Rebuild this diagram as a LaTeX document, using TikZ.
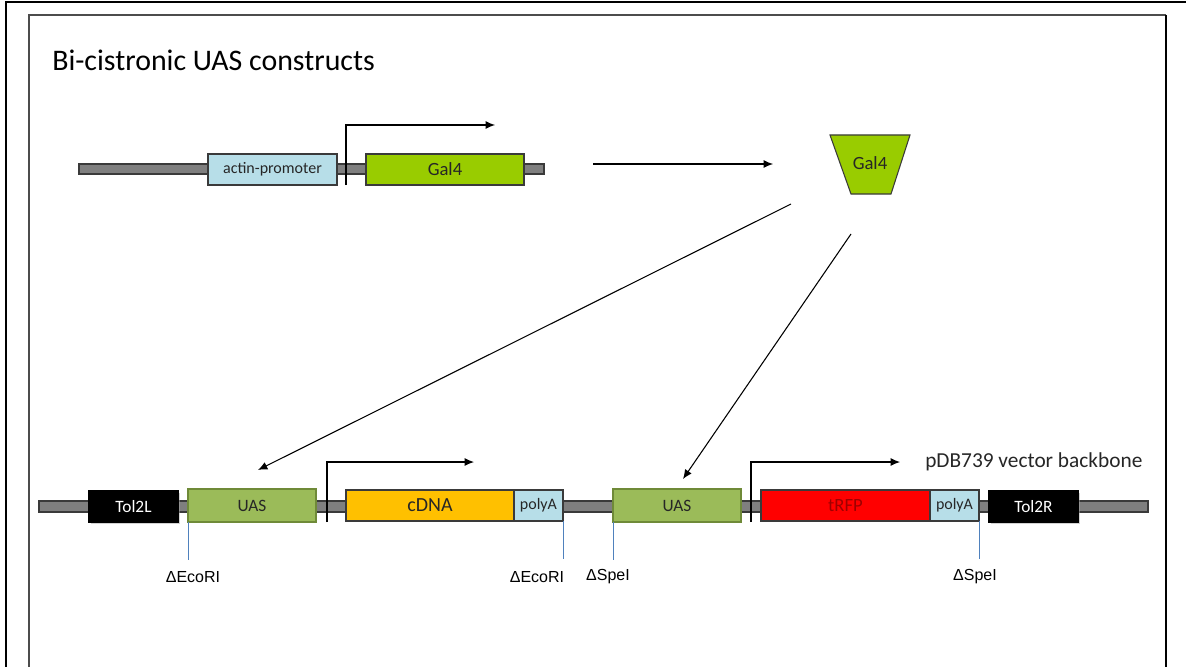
\documentclass[tikz,border=0pt]{standalone}
\usepackage{fontspec}
\setmainfont{Carlito}
\newfontfamily\arialfont{Liberation Sans}
\usetikzlibrary{arrows.meta,shadows}

\definecolor{bbone}{HTML}{7F7F7F}
\definecolor{edge}{HTML}{3A3A3A}
\definecolor{paleblue}{HTML}{B7DEE8}
\definecolor{limegreen}{HTML}{99CC00}
\definecolor{uasfill}{HTML}{9BBB59}
\definecolor{uasedge}{HTML}{6F8A38}
\definecolor{cdnafill}{HTML}{FFC000}
\definecolor{rfpfill}{HTML}{FF0000}
\definecolor{rfptext}{HTML}{9E0000}
\definecolor{siteblue}{HTML}{4F81BD}

% a gene element: name, x1, y1, x2, y2, style, text
\newcommand\element[7]{%
  \node[#6, minimum width={(#4-#2)*0.75pt}, minimum height={(#5-#3)*0.75pt}]
    (#1) at ({(#2+#4)/2},{(#3+#5)/2}) {#7};}

\begin{document}
\begin{tikzpicture}[x=0.75pt,y=-0.75pt,
  block/.style={draw=edge, line width=0.8pt, inner sep=0pt, outer sep=0pt, text=black!85},
  backbone/.style={block, fill=bbone},
  promoterbox/.style={block, fill=paleblue, font=\fontsize{12}{14}\selectfont},
  gal4box/.style={block, fill=limegreen, font=\fontsize{14}{16}\selectfont},
  uasbox/.style={block, draw=uasedge, line width=2.2pt, fill=uasfill, font=\fontsize{13}{15}\selectfont},
  cdnabox/.style={block, fill=cdnafill, font=\fontsize{15}{18}\selectfont},
  rfpbox/.style={block, fill=rfpfill, text=rfptext, font=\fontsize{14}{17}\selectfont},
  polyabox/.style={block, fill=paleblue, font=\fontsize{12}{14}\selectfont},
  tolbox/.style={block, draw=black, fill=black, text=white, font=\fontsize{13}{15}\selectfont,
    drop shadow={shadow xshift=1.2pt, shadow yshift=-1.2pt, fill=black!35}},
  tss/.style={draw=black, line width=0.8pt, -{Latex[length=7pt,width=6pt]}},
  arr/.style={draw=black, line width=0.8pt, -{Latex[length=7pt,width=6pt]}},
  site/.style={draw=siteblue, line width=0.6pt},
  sitelabel/.style={font=\arialfont\fontsize{12}{14}\selectfont, inner sep=0pt}]

\useasboundingbox (0,0) rectangle (1186,667);

% page frames
\draw[black, line width=2pt] (6,700) -- (6,2) -- (1190,2);
\draw[black!70, line width=1.5pt] (29,700) -- (29,15) -- (1166,15);
\draw[black, line width=2.2pt] (1166,15) -- (1166,700);

% title
\node[anchor=west, inner sep=0pt, font=\fontsize{22.4}{26}\selectfont] (title) at (52,60) {Bi-cistronic UAS constructs};

% driver construct
\element{drvbb}{79}{164}{544}{174}{backbone}{}
\element{actin}{208}{154}{337}{185}{promoterbox}{actin-promoter}
\element{gal4g}{366}{154}{524}{185}{gal4box}{Gal4}
\coordinate (tss1a) at (346,185);
\coordinate (tss1b) at (495,125);
\draw[tss] (tss1a) |- (tss1b);

% translation to Gal4 protein
\coordinate (trA) at (593,164);
\coordinate (trB) at (773,164);
\draw[arr] (trA) -- (trB);

\draw[draw=edge, line width=0.8pt, fill=limegreen] (830,135) -- (910,135) -- (891,194) -- (851,194) -- cycle;
\node[font=\fontsize{14}{16}\selectfont, text=black!85] (gal4p) at (870,163) {Gal4};

% Gal4 binding to both UAS copies
\coordinate (b1s) at (791,204);
\coordinate (b1e) at (258,470);
\coordinate (b2s) at (851,234);
\coordinate (b2e) at (683,479);
\draw[arr] (b1s) -- (b1e);
\draw[arr] (b2s) -- (b2e);

% bi-cistronic responder construct
\element{respbb}{39}{501}{1148}{512}{backbone}{}
\element{tolL}{89}{491}{178}{522}{tolbox}{Tol2L}
\element{uas1}{188}{489}{316}{522}{uasbox}{UAS}
\element{cdna}{346}{490}{514}{521}{cdnabox}{cDNA}
\element{pa1}{514}{490}{563}{521}{polyabox}{polyA}
\element{uas2}{613}{489}{741}{522}{uasbox}{UAS}
\element{trfp}{761}{490}{930}{521}{rfpbox}{tRFP}
\element{pa2}{930}{490}{979}{521}{polyabox}{polyA}
\element{tolR}{989}{491}{1078}{522}{tolbox}{Tol2R}

\coordinate (tss2a) at (327,522);
\coordinate (tss2b) at (474,462);
\draw[tss] (tss2a) |- (tss2b);
\coordinate (tss3a) at (751,522);
\coordinate (tss3b) at (900,462);
\draw[tss] (tss3a) |- (tss3b);

\node[anchor=west, inner sep=0pt, font=\fontsize{16}{18}\selectfont, text=black!85] (vec) at (925,462) {pDB739 vector backbone};

% destroyed restriction sites
\draw[site] (uas1.south west) -- ++(0,38) coordinate (s1);
\draw[site] (pa1.south east) -- ++(0,38) coordinate (s2);
\draw[site] (uas2.south west) -- ++(0,38) coordinate (s3);
\draw[site] (pa2.south east) -- ++(0,38) coordinate (s4);
\node[sitelabel] (e1) at (193,577) {ΔEcoRI};
\node[sitelabel] (e2) at (537,577) {ΔEcoRI};
\node[sitelabel] (p1) at (608,577) {ΔSpeI};
\node[sitelabel] (p2) at (975,577) {ΔSpeI};
\end{tikzpicture}
\end{document}
